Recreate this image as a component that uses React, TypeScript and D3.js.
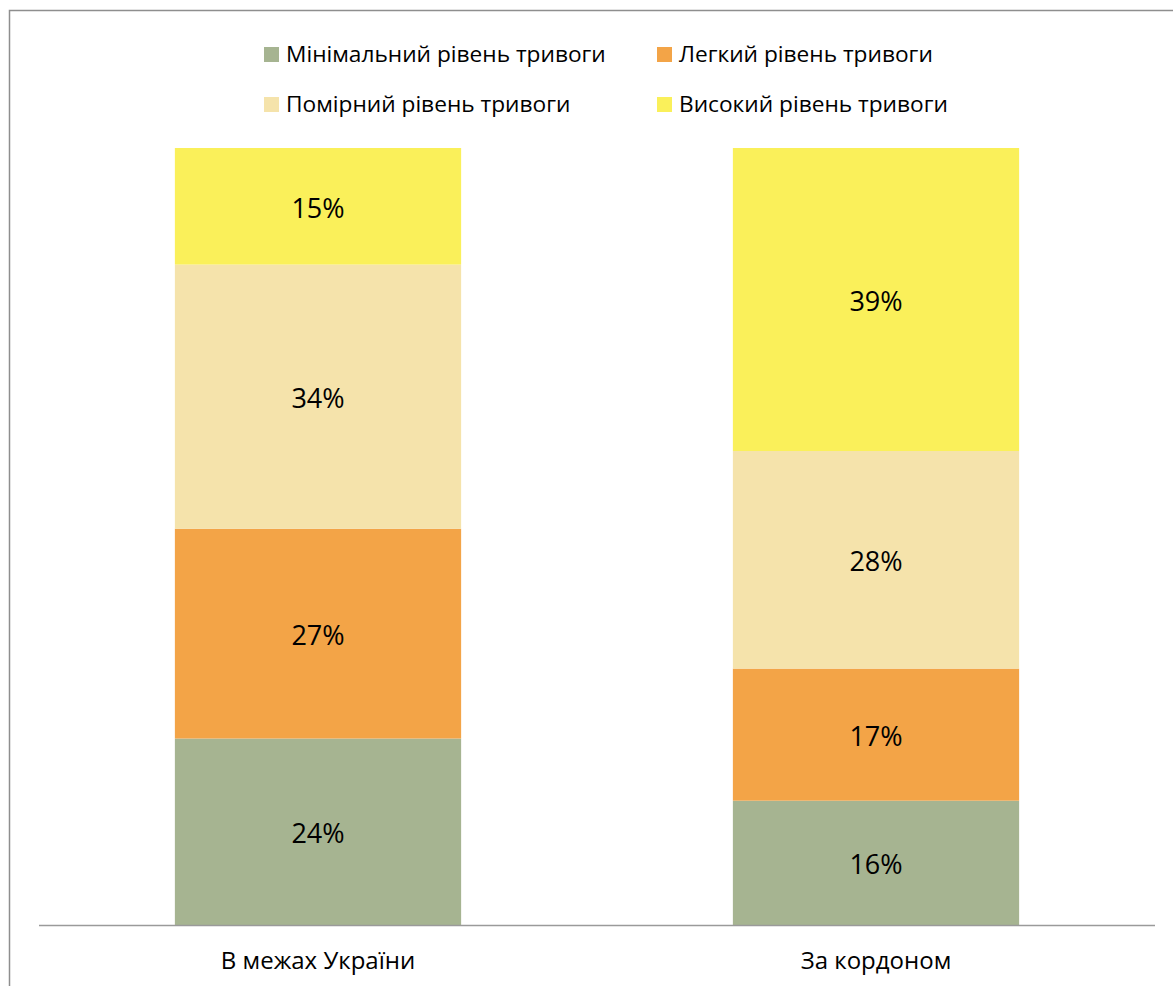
import React from "react";
import * as d3 from "d3";

const categories = ["В межах України", "За кордоном"];
const seriesNames = [
  "Мінімальний рівень тривоги",
  "Легкий рівень тривоги",
  "Помірний рівень тривоги",
  "Високий рівень тривоги",
];
const minimal = [24, 16];
const light = [27, 17];
const moderate = [34, 28];
const high = [15, 39];
const seriesColors = ["#A6B491", "#F3A447", "#F5E3AB", "#FAF05A"];

const W = 1173;
const H = 986;
const FONT = "'Open Sans', 'Noto Sans', sans-serif";

export default function App() {
  const seriesValues = [minimal, light, moderate, high];
  const rows = categories.map((c, i) => {
    const r: any = { cat: c };
    seriesNames.forEach((s, k) => (r[s] = seriesValues[k][i]));
    return r;
  });
  const stack = d3.stack<any>().keys(seriesNames)(rows);

  const x = d3
    .scaleBand<string>()
    .domain(categories)
    .range([39, 1155])
    .paddingInner(0.487)
    .paddingOuter(0.2435);
  const y = d3.scaleLinear().domain([0, 100]).range([925, 148]);

  const legendPos = [
    { x: 264, y: 47 },
    { x: 657, y: 47 },
    { x: 264, y: 97 },
    { x: 657, y: 97 },
  ];

  return (
    <svg
      width={W}
      height={H}
      style={{ position: "absolute", left: 0, top: 0, background: "#fff" }}
      fontFamily={FONT}
    >
      <rect x={0} y={0} width={W} height={H} fill="#fff" />
      <rect
        x={9.5}
        y={10.5}
        width={W + 50}
        height={H + 50}
        fill="none"
        stroke="#8e8e8e"
        strokeWidth={1.5}
      />
      {stack.map((layer, k) => (
        <g key={seriesNames[k]}>
          {layer.map((d, i) => (
            <rect
              key={i}
              x={x(categories[i])}
              y={y(d[1])}
              width={x.bandwidth()}
              height={y(d[0]) - y(d[1])}
              fill={seriesColors[k]}
            />
          ))}
        </g>
      ))}
      {stack.map((layer, k) =>
        layer.map((d, i) => (
          <text
            key={`l${k}-${i}`}
            x={(x(categories[i]) as number) + x.bandwidth() / 2}
            y={(y(d[0]) + y(d[1])) / 2}
            dy="0.43em"
            textAnchor="middle"
            fontSize={27}
            fill="#000"
          >
            {`${d[1] - d[0]}%`}
          </text>
        ))
      )}
      <line x1={39} x2={1155} y1={925.5} y2={925.5} stroke="#9a9a9a" strokeWidth={1.5} />
      {categories.map((c) => (
        <text
          key={c}
          x={(x(c) as number) + x.bandwidth() / 2}
          y={969}
          textAnchor="middle"
          fontSize={24}
          fill="#000"
        >
          {c}
        </text>
      ))}
      {seriesNames.map((s, k) => (
        <g key={s} transform={`translate(${legendPos[k].x},${legendPos[k].y})`}>
          <rect x={0} y={0} width={15} height={15} fill={seriesColors[k]} />
          <text x={22} y={15} fontSize={22.7} fill="#000">
            {s}
          </text>
        </g>
      ))}
    </svg>
  );
}
